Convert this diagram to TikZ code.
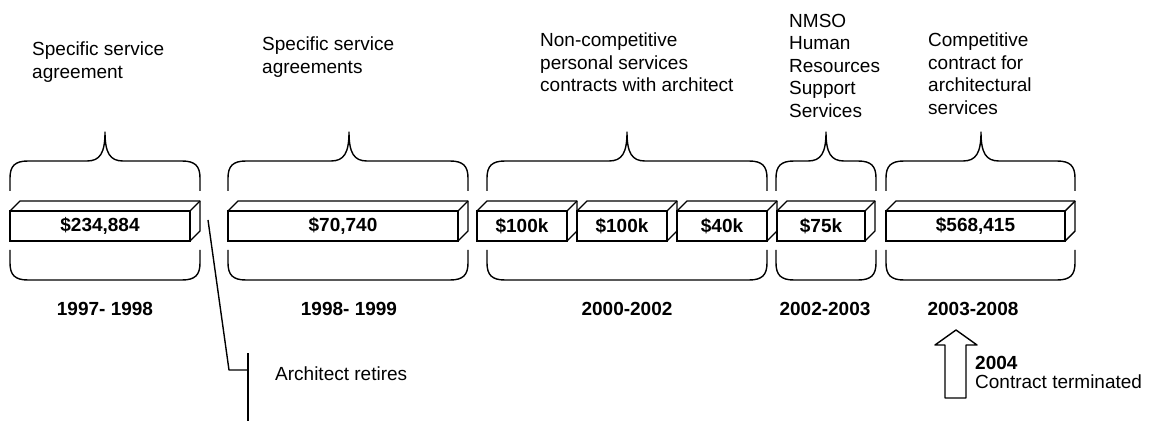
\documentclass[tikz,border=0pt]{standalone}
\usepackage{fontspec}
\setmainfont{Liberation Sans}
\newcommand\diafont{\fontsize{19pt}{22.5pt}\selectfont}
\tikzset{
  ln/.style={line width=1.4pt, line join=round},
  face/.style={draw, line width=1.4pt, minimum height=30pt, inner sep=0pt, outer sep=0pt, font=\diafont\bfseries},
  txt/.style={inner sep=0pt, align=left, anchor=north west},
  yr/.style={inner sep=0pt, anchor=base, font=\diafont\bfseries},
}
% 3D box faces around a front-face node
\newcommand\solidbox[1]{%
  \draw[ln] (#1.north west) -- ([shift={(10,-10)}]#1.north west)
    -- ([shift={(10,-10)}]#1.north east) -- ([shift={(10,-10)}]#1.south east)
    -- (#1.south east);
  \draw[ln] (#1.north east) -- ([shift={(10,-10)}]#1.north east);}
% upper brace: left, centre, right
\newcommand\upbrace[3]{%
  \draw[ln] (#1,191) -- (#1,178) .. controls (#1,166) and ({#1+5},161) .. ({#1+18},161)
    -- ({#2-18},161) .. controls ({#2-5},161) and (#2,153) .. (#2,132)
    .. controls (#2,153) and ({#2+5},161) .. ({#2+18},161)
    -- ({#3-18},161) .. controls ({#3-5},161) and (#3,166) .. (#3,178) -- (#3,191);}
% lower brace: left, right
\newcommand\lowbrace[2]{%
  \draw[ln] (#1,250) -- (#1,263) .. controls (#1,275) and ({#1+5},280) .. ({#1+18},280)
    -- ({#2-18},280) .. controls ({#2-5},280) and (#2,275) .. (#2,263) -- (#2,250);}
\begin{document}
\begin{tikzpicture}[x=1pt, y=-1pt, font=\diafont]
\useasboundingbox (0,0) rectangle (1149,422);

% top descriptions
\node[txt] (t1) at (32,42) {Specific service\\agreement};
\node[txt] (t2) at (262,37) {Specific service\\agreements};
\node[txt] (t3) at (540,33) {Non-competitive\\personal services\\contracts with architect};
\node[txt] (t4) at (789,14) {NMSO\\Human\\Resources\\Support\\Services};
\node[txt] (t5) at (928,33) {Competitive\\contract for\\architectural\\services};

% braces
\upbrace{10}{105}{200}   \lowbrace{10}{200}
\upbrace{228}{349}{468}  \lowbrace{228}{468}
\upbrace{487}{627}{767}  \lowbrace{487}{767}
\upbrace{776}{826}{876}  \lowbrace{776}{876}
\upbrace{886}{981}{1075} \lowbrace{886}{1075}

% boxes
\node[face, minimum width=180pt] (b1) at (100,226) {\$234,884};
\node[face, minimum width=230pt] (b2) at (343,226) {\$70,740};
\node[face, minimum width=90pt] (b3) at (522,226) {\$100k};
\node[face, minimum width=90pt] (b4) at (622,226) {\$100k};
\node[face, minimum width=90pt] (b5) at (722,226) {\$40k};
\node[face, minimum width=88pt] (b6) at (821,226) {\$75k};
\node[face, minimum width=179pt] (b7) at (975.5,226) {\$568,415};
\solidbox{b1}\solidbox{b2}\solidbox{b3}\solidbox{b4}\solidbox{b5}\solidbox{b6}\solidbox{b7}

% years
\node[yr] (y1) at (105,316) {1997- 1998};
\node[yr] (y2) at (349,316) {1998- 1999};
\node[yr] (y3) at (627,316) {2000-2002};
\node[yr] (y4) at (825,316) {2002-2003};
\node[yr] (y5) at (973,316) {2003-2008};

% architect retires
\coordinate (ar1) at (208,220);
\coordinate (ar2) at (229,370);
\coordinate (tk1) at (248,353);
\coordinate (tk2) at (248,421);
\draw[ln] (ar1) -- (ar2) -- (ar2 -| tk1);
\draw[ln] (tk1) -- (tk2);
\node[inner sep=0pt, anchor=base west] (ar) at (275,380) {Architect retires};

% contract terminated
\draw[ln] (956,330) -- (977,345) -- (966,345) -- (966,398) -- (945,398) -- (945,345) -- (935,345) -- cycle;
\node[txt, font=\fontsize{19pt}{19.5pt}\selectfont] (ct) at (975,356) {\textbf{2004}\\Contract terminated};
\end{tikzpicture}
\end{document}
